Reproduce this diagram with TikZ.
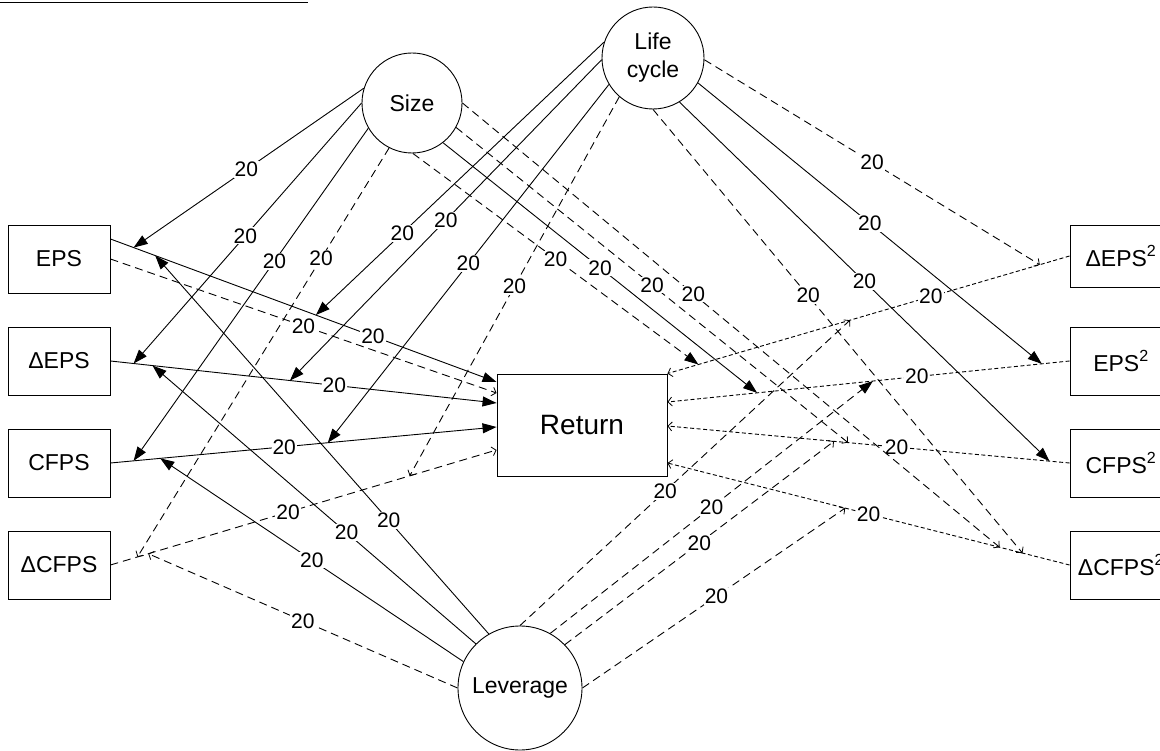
\documentclass[tikz,border=0pt]{standalone}
\usepackage{fontspec}
\setmainfont{Liberation Sans}
\usetikzlibrary{arrows.meta,calc}
\begin{document}
\begin{tikzpicture}[x=1pt,y=-1pt,
  box/.style={draw,line width=0.9pt,minimum width=102pt,minimum height=68pt,inner sep=0pt,font=\fontsize{23}{25}\selectfont},
  circ/.style={draw,circle,line width=0.9pt,inner sep=0pt,font=\fontsize{23}{28}\selectfont,align=center},
  lbl/.style={fill=white,inner sep=1pt,font=\fontsize{21}{21}\selectfont},
  conn/.style={line width=0.9pt},
  sol/.style={conn,-{Triangle[length=14pt,width=10pt]}},
  dl/.style={conn,dash pattern=on 8pt off 5pt,-{Straight Barb[length=4pt,width=9pt,line width=0.8pt]}},
  dlf/.style={conn,dash pattern=on 8pt off 5pt,-{Triangle[length=14pt,width=10pt]}},
  ds/.style={conn,dash pattern=on 4pt off 2.5pt,-{Straight Barb[length=4pt,width=9pt,line width=0.8pt]}},
]
\useasboundingbox (0,0) rectangle (1160,751);
\fill[white] (0,0) rectangle (1160,751);
\draw[line width=1.6pt] (0,2.5) -- (308,2.5);

% nodes
\node[box] (eps) at (59,259) {EPS};
\node[box] (deps) at (59,361) {ΔEPS};
\node[box] (cfps) at (59,463) {CFPS};
\node[box] (dcfps) at (59,565) {ΔCFPS};
\node[box,minimum height=62pt] (deps2) at (1121,256) {ΔEPS\textsuperscript{2}};
\node[box] (eps2) at (1121,361) {EPS\textsuperscript{2}};
\node[box] (cfps2) at (1121,463) {CFPS\textsuperscript{2}};
\node[box] (dcfps2) at (1121,565) {ΔCFPS\textsuperscript{2}};
\node[box,minimum width=170pt,minimum height=102pt,font=\fontsize{28}{30}\selectfont] (ret) at (582,425) {Return};
\node[circ,minimum size=100pt] (size) at (412,103) {Size};
\node[circ,minimum size=102pt] (life) at (653,58) {Life\\cycle};
\node[circ,minimum size=124pt] (lev) at (520,688) {Leverage};

% path end points
\coordinate (p1s) at ($(eps.east)+(0,-20)$);
\coordinate (pes) at (eps.east);
\coordinate (p1e) at ($(ret.west)+(0,-43)$);
\coordinate (pee) at ($(ret.west)+(0,-32)$);
\coordinate (p2s) at (deps.east);
\coordinate (p2e) at ($(ret.west)+(0,-22)$);
\coordinate (p3s) at (cfps.east);
\coordinate (p3e) at ($(ret.west)+(0,2)$);
\coordinate (p4s) at (dcfps.east);
\coordinate (p4e) at ($(ret.west)+(0,25)$);
\coordinate (p5s) at (deps2.west);
\coordinate (p5e) at (ret.north east);
\coordinate (p6s) at (eps2.west);
\coordinate (p6e) at ($(ret.east)+(0,-23)$);
\coordinate (p7s) at (cfps2.west);
\coordinate (p7e) at ($(ret.east)+(0,1)$);
\coordinate (p8s) at (dcfps2.west);
\coordinate (p8e) at ($(ret.east)+(0,38)$);

% moderation targets on the paths
\coordinate (ms1) at ($(p1s)!0.06!(p1e)$);
\coordinate (mv4) at ($(p1s)!0.116!(p1e)$);
\coordinate (ml1) at ($(p1s)!0.532!(p1e)$);
\coordinate (ms2) at ($(p2s)!0.06!(p2e)$);
\coordinate (mv3) at ($(p2s)!0.109!(p2e)$);
\coordinate (ml2) at ($(p2s)!0.465!(p2e)$);
\coordinate (ms3) at ($(p3s)!0.06!(p3e)$);
\coordinate (mv2) at ($(p3s)!0.129!(p3e)$);
\coordinate (ml3) at ($(p3s)!0.563!(p3e)$);
\coordinate (ms4) at ($(p4s)!0.07!(p4e)$);
\coordinate (mv1) at ($(p4s)!0.098!(p4e)$);
\coordinate (ml4) at ($(p4s)!0.775!(p4e)$);
\coordinate (mlr1) at ($(p5s)!0.074!(p5e)$);
\coordinate (mvr1) at ($(p5s)!0.546!(p5e)$);
\coordinate (msr1) at ($(p5s)!0.923!(p5e)$);
\coordinate (mlr2) at ($(p6s)!0.069!(p6e)$);
\coordinate (mvr2) at ($(p6s)!0.489!(p6e)$);
\coordinate (msr2) at ($(p6s)!0.777!(p6e)$);
\coordinate (mlr3) at ($(p7s)!0.05!(p7e)$);
\coordinate (msr3) at ($(p7s)!0.551!(p7e)$);
\coordinate (mvr3) at ($(p7s)!0.586!(p7e)$);
\coordinate (mlr4) at ($(p8s)!0.117!(p8e)$);
\coordinate (msr4) at ($(p8s)!0.174!(p8e)$);
\coordinate (mvr4) at ($(p8s)!0.558!(p8e)$);

% paths into Return
\draw[sol] (p1s) -- node[lbl,pos=.68]{20} (p1e);
\draw[dl] (pes) -- node[lbl,pos=.50]{20} (pee);
\draw[sol] (p2s) -- node[lbl,pos=.58]{20} (p2e);
\draw[sol] (p3s) -- node[lbl,pos=.45]{20} (p3e);
\draw[dl] (p4s) -- node[lbl,pos=.46]{20} (p4e);
\draw[ds] (p5s) -- node[lbl,pos=.345]{20} (p5e);
\draw[ds] (p6s) -- node[lbl,pos=.38]{20} (p6e);
\draw[ds] (p7s) -- node[lbl,pos=.43]{20} (p7e);
\draw[ds] (p8s) -- node[lbl,pos=.50]{20} (p8e);

% Size
\draw[sol] (size.163) -- node[lbl,pos=.51]{20} (ms1);
\draw[sol] (size.180) -- node[lbl,pos=.51]{20} (ms2);
\draw[sol] (size.210) -- node[lbl,pos=.40]{20} (ms3);
\draw[dl] (size.243) -- node[lbl,pos=.27]{20} (ms4);
\draw[dlf] (size.271) -- node[lbl,pos=.50]{20} (msr1);
\draw[sol] (size.308) -- node[lbl,pos=.50]{20} (msr2);
\draw[dl] (size.331) -- node[lbl,pos=.50]{20} (msr3);
\draw[dl] (size.0) -- node[lbl,pos=.43]{20} (msr4);

% Life cycle
\draw[sol] (life.162) -- node[lbl,pos=.70]{20} (ml1);
\draw[sol] (life.182) -- node[lbl,pos=.50]{20} (ml2);
\draw[sol] (life.211) -- node[lbl,pos=.50]{20} (ml3);
\draw[dl] (life.229) -- node[lbl,pos=.50]{20} (ml4);
\draw[dl] (life.358) -- node[lbl,pos=.50]{20} (mlr1);
\draw[sol] (life.331) -- node[lbl,pos=.50]{20} (mlr2);
\draw[sol] (life.301) -- node[lbl,pos=.50]{20} (mlr3);
\draw[dl] (life.270) -- node[lbl,pos=.42]{20} (mlr4);

% Leverage
\draw[dl] (lev.180) -- node[lbl,pos=.50]{20} (mv1);
\draw[sol] (lev.155) -- node[lbl,pos=.50]{20} (mv2);
\draw[sol] (lev.135) -- node[lbl,pos=.40]{20} (mv3);
\draw[sol] (lev.120) -- node[lbl,pos=.30]{20} (mv4);
\draw[dl] (lev.90) -- node[lbl,pos=.44]{20} (mvr1);
\draw[dlf] (lev.61) -- node[lbl,pos=.50]{20} (mvr2);
\draw[dl] (lev.44) -- node[lbl,pos=.50]{20} (mvr3);
\draw[dl] (lev.0) -- node[lbl,pos=.51]{20} (mvr4);
\end{tikzpicture}
\end{document}
